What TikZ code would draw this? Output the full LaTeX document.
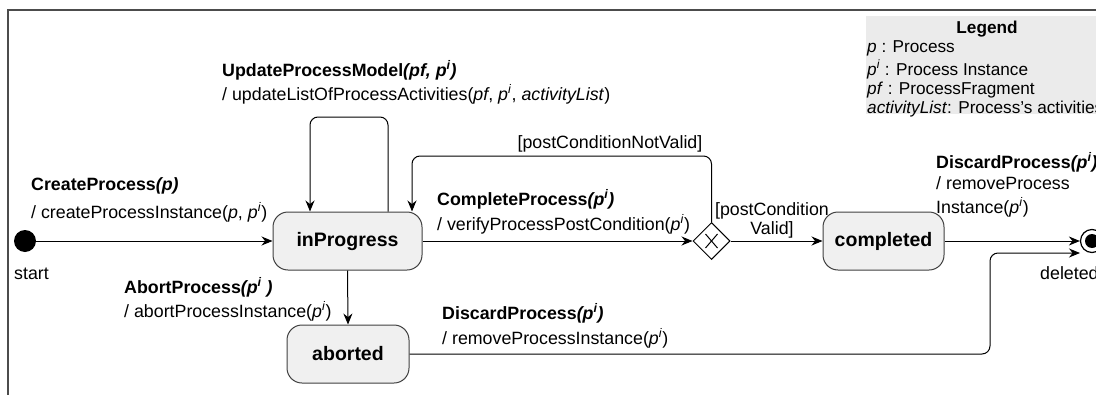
\documentclass[tikz,border=0pt]{standalone}
\usepackage{fontspec}
\setmainfont{Liberation Sans}
\usetikzlibrary{arrows.meta,shapes.geometric,calc}
\begin{document}
\begin{tikzpicture}[x=1pt,y=-1pt,
  lbl/.style={font=\fontsize{17.8}{21}\selectfont, inner sep=0pt, anchor=base west},
  ev/.style={lbl, font=\fontsize{17.8}{21}\selectfont\bfseries},
  leg/.style={font=\fontsize{17.2}{20}\selectfont, inner sep=0pt, anchor=base west},
  state/.style={draw=black!75, fill=black!6, rounded corners=15pt, line width=1pt,
    minimum height=58pt, font=\fontsize{19.5}{23}\selectfont\bfseries, inner sep=0pt},
  conn/.style={draw, line width=1pt, -{Stealth[length=11pt,width=9pt]}, rounded corners=8pt},
]
\useasboundingbox (0,0) rectangle (1096,394);
\clip (0,0) rectangle (1096,394);
% frame
\draw[black!70, line width=1.3pt] (8,400) -- (8,10) -- (1110,10);
% legend
\node[fill=black!8, minimum width=244pt, minimum height=98pt, anchor=north west, inner sep=0pt] (legend) at (866,16) {};
\node[leg, anchor=base, font=\fontsize{17.2}{20}\selectfont\bfseries] (legT) at (987,33) {Legend};
\node[leg] (leg1) at (867,52) {\textit{p} : Process};
\node[leg] (leg2) at (867,75) {\textit{p}\textsuperscript{\textit{i}} : Process Instance};
\node[leg] (leg3) at (867,94) {\textit{pf} : ProcessFragment};
\node[leg] (leg4) at (867,113) {\textit{activityList}: Process's activities};
% states
\node[circle, fill=black, minimum size=22pt, inner sep=0pt] (start) at (25,241) {};
\node[lbl] (startL) at (14,279) {start};
\node[state, minimum width=149pt] (inProgress) at (347.5,241) {inProgress};
\node[state, minimum width=121pt] (completed) at (883.5,241) {completed};
\node[state, minimum width=122pt] (aborted) at (348,354) {aborted};
\node[diamond, draw, line width=1pt, minimum width=37pt, minimum height=37pt, inner sep=0pt, fill=white] (dec) at (711.5,241) {};
\draw[line width=1pt] (dec.center) ++(-6,-7) -- ++(12,14);
\draw[line width=1pt] (dec.center) ++(6,-7) -- ++(-12,14);
\node[circle, draw, line width=1.2pt, minimum size=23pt, inner sep=0pt] (deleted) at (1092,241) {};
\fill (deleted.center) circle (7pt);
\node[lbl] (delL) at (1040,279) {deleted};
% coordinates
\coordinate (loopR) at (388,117);
\coordinate (loopL) at (310,117);
\coordinate (nvTop) at (412,156);
\coordinate (abV) at (990,253);
\coordinate (delIn) at (1080,253);
% connectors
\draw[conn] (start.east) -- (inProgress.west);
\draw[conn] (inProgress.north -| loopR) -- (loopR) -- (loopL) -- (inProgress.north -| loopL);
\draw[conn] (inProgress.east) -- (dec.west);
\draw[conn] (dec.north) |- (nvTop) -- (inProgress.north -| nvTop);
\draw[conn] (dec.east) -- (completed.west);
\draw[conn] (completed.east) -- (deleted.west);
\draw[conn] (inProgress.south) -- (aborted.north);
\draw[conn] (aborted.east) -| (abV) -- (delIn);
% labels
\node[ev] (lUpd) at (222,76) {UpdateProcessModel\textit{(pf, p\textsuperscript{i})}};
\node[lbl] (lUpd2) at (222,100) {/ updateListOfProcessActivities(\textit{pf}, \textit{p}\textsuperscript{\textit{i}}, \textit{activityList})};
\node[ev] (lCr) at (31,190) {CreateProcess\textit{(p)}};
\node[lbl] (lCr2) at (31,218) {/ createProcessInstance(\textit{p}, \textit{p}\textsuperscript{\textit{i}})};
\node[ev] (lCo) at (437,205) {CompleteProcess\textit{(p\textsuperscript{i})}};
\node[lbl] (lCo2) at (437,230) {/ verifyProcessPostCondition(\textit{p}\textsuperscript{\textit{i}})};
\node[lbl, anchor=base] (lNv) at (610,148) {[postConditionNotValid]};
\node[lbl, anchor=base] (lV1) at (772,215) {[postCondition};
\node[lbl, anchor=base] (lV2) at (772,234) {Valid]};
\node[ev] (lD1) at (936,168) {DiscardProcess\textit{(p\textsuperscript{i})}};
\node[lbl] (lD1b) at (936,189) {/ removeProcess};
\node[lbl] (lD1c) at (936,213) {Instance(\textit{p}\textsuperscript{\textit{i}})};
\node[ev] (lAb) at (124,293) {AbortProcess\textit{(p\textsuperscript{i} )}};
\node[lbl] (lAb2) at (124,317) {/ abortProcessInstance(\textit{p}\textsuperscript{\textit{i}})};
\node[ev] (lD2) at (442,319) {DiscardProcess\textit{(p\textsuperscript{i})}};
\node[lbl] (lD2b) at (442,344) {/ removeProcessInstance(\textit{p}\textsuperscript{\textit{i}})};
\end{tikzpicture}
\end{document}
